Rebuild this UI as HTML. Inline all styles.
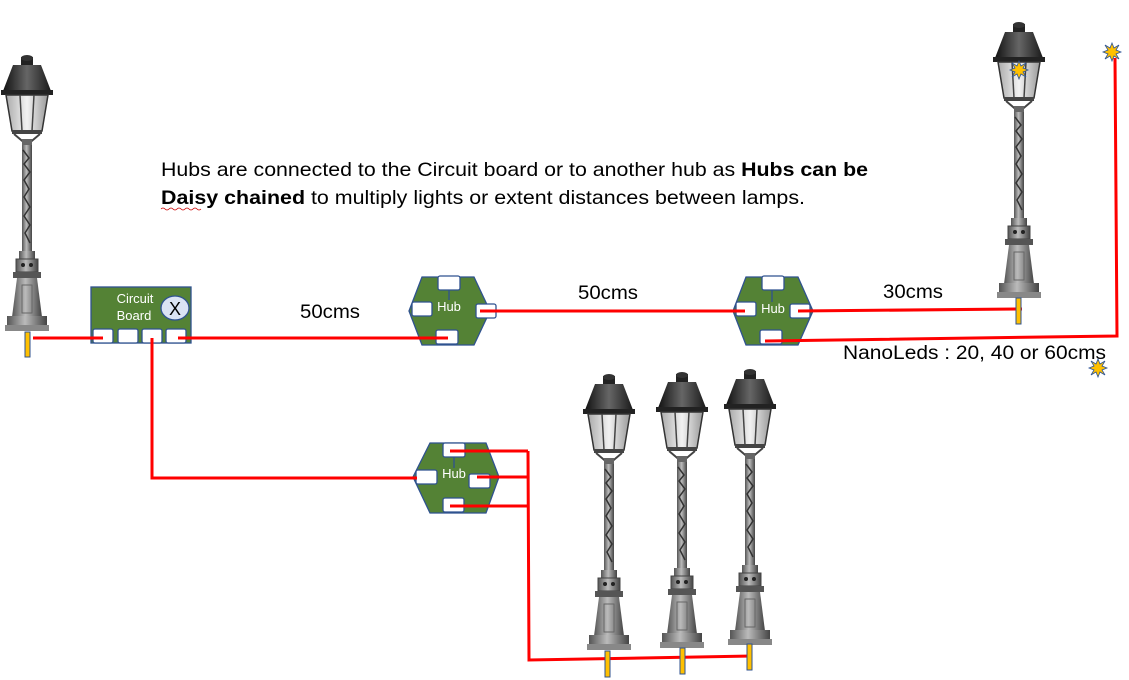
<!DOCTYPE html>
<html><head><meta charset="utf-8"><style>
html,body{margin:0;padding:0;background:#fff;}
svg{display:block;}
</style></head><body>
<svg width="1129" height="680" viewBox="0 0 1129 680" xmlns="http://www.w3.org/2000/svg" font-family="Liberation Sans, sans-serif">
<defs>
<linearGradient id="roof" x1="0" x2="1"><stop offset="0" stop-color="#111"/><stop offset="0.5" stop-color="#666"/><stop offset="1" stop-color="#1a1a1a"/></linearGradient>
<linearGradient id="glass" x1="0" x2="1"><stop offset="0" stop-color="#aaa"/><stop offset="0.5" stop-color="#f2f2f2"/><stop offset="1" stop-color="#999"/></linearGradient>
<linearGradient id="metal" x1="0" x2="1"><stop offset="0" stop-color="#555"/><stop offset="0.45" stop-color="#bbb"/><stop offset="1" stop-color="#444"/></linearGradient>
<g id="lamp">
 <rect x="19" y="2" width="12" height="9" fill="#222"/>
 <ellipse cx="25" cy="3" rx="6" ry="3" fill="#333"/>
 <polygon points="11,10 39,10 49,36 1,36" fill="url(#roof)"/>
 <rect x="-1" y="35" width="52" height="5" fill="#222"/>
 <polygon points="4,40 46,40 40,76 10,76" fill="url(#glass)" stroke="#333" stroke-width="1.5"/>
 <line x1="18" y1="40" x2="20" y2="76" stroke="#444" stroke-width="1.5"/>
 <line x1="32" y1="40" x2="30" y2="76" stroke="#444" stroke-width="1.5"/>
 <rect x="10" y="75" width="30" height="4" fill="#444"/>
 <path d="M12,79 L25,90 L38,79" stroke="#444" stroke-width="2" fill="none"/>
 <rect x="20" y="84" width="10" height="6" fill="#666"/>
 <rect x="20" y="90" width="10" height="106" fill="url(#metal)"/>
 <path d="M21,95 l6,8 l-5,6 l6,8 l-6,8 l5,9 l-5,8 l6,10 l-6,9 l6,9 l-5,8 l5,10" stroke="#333" stroke-width="1.5" fill="none"/>
 <rect x="17" y="196" width="16" height="8" fill="url(#metal)"/>
 <rect x="14" y="204" width="22" height="13" fill="url(#metal)" stroke="#444" stroke-width="1"/>
 <circle cx="21" cy="210" r="2" fill="#222"/><circle cx="29" cy="210" r="2" fill="#222"/>
 <rect x="11" y="217" width="28" height="6" fill="#555"/>
 <polygon points="15,223 35,223 40,262 10,262" fill="url(#metal)"/>
 <rect x="20" y="230" width="10" height="28" fill="none" stroke="#666" stroke-width="1"/>
 <rect x="5" y="261" width="40" height="10" fill="url(#metal)"/>
 <rect x="3" y="270" width="44" height="6" fill="#888"/>
</g>
<g id="star"><polygon points="0,-9 2,-4 7,-7 4,-2 9,0 4,2 7,7 2,4 0,9 -2,4 -7,7 -4,2 -9,0 -4,-2 -7,-7 -2,-4" fill="#ffc000" stroke="#2e5597" stroke-width="0.8"/></g>
</defs>

<use href="#lamp" x="2" y="55"/>
<use href="#lamp" x="994" y="22"/>
<use href="#lamp" x="584" y="374"/>
<use href="#lamp" x="657" y="372"/>
<use href="#lamp" x="725" y="369"/>
<use href="#star" x="1019" y="70"/>
<use href="#star" x="1112" y="52"/>
<use href="#star" x="1098" y="368"/>

<text x="161" y="176" font-size="19.5" textLength="707" lengthAdjust="spacingAndGlyphs">Hubs are connected to the Circuit board or to another hub as <tspan font-weight="bold">Hubs can be</tspan></text>
<text x="161" y="204" font-size="19.5" textLength="644" lengthAdjust="spacingAndGlyphs"><tspan font-weight="bold">Daisy chained</tspan> to multiply lights or extent distances between lamps.</text>
<path d="M161,209 q2,-2 4,0 t4,0 t4,0 t4,0 t4,0 t4,0 t4,0 t4,0 t4,0 t4,0" stroke="#c00" stroke-width="0.8" fill="none"/>
<text x="300" y="318" font-size="19" textLength="60" lengthAdjust="spacingAndGlyphs">50cms</text>
<text x="578" y="299" font-size="19" textLength="60" lengthAdjust="spacingAndGlyphs">50cms</text>
<text x="883" y="298" font-size="19" textLength="60" lengthAdjust="spacingAndGlyphs">30cms</text>
<text x="843" y="359" font-size="19" textLength="263" lengthAdjust="spacingAndGlyphs">NanoLeds : 20, 40 or 60cms</text>

<rect x="91" y="287" width="100" height="56" fill="#548235" stroke="#2f528f" stroke-width="1.3"/>
<text x="135" y="303" font-size="13" fill="#fff" text-anchor="middle">Circuit</text>
<text x="134" y="320" font-size="13" fill="#fff" text-anchor="middle">Board</text>
<ellipse cx="175" cy="308" rx="14" ry="12" fill="#dae3f3" stroke="#2f528f" stroke-width="1.3"/>
<text x="175" y="315" font-size="18" text-anchor="middle">X</text>
<g fill="#fff" stroke="#2f528f" stroke-width="1.3">
<rect x="93" y="329" width="20" height="14" rx="2"/>
<rect x="118" y="329" width="20" height="14" rx="2"/>
<rect x="142" y="329" width="20" height="14" rx="2"/>
<rect x="166" y="329" width="20" height="14" rx="2"/>
</g>

<g stroke="#2f528f" stroke-width="1.3">
<polygon points="422,277 474,277 490,311 474,345 422,345 409,311" fill="#548235"/>
<line x1="449" y1="290" x2="449" y2="300"/>
<rect x="438" y="276" width="22" height="14" rx="2" fill="#fff"/>
<rect x="412" y="302" width="20" height="14" rx="2" fill="#fff"/>
<rect x="476" y="304" width="20" height="14" rx="2" fill="#fff"/>
<rect x="436" y="330" width="22" height="14" rx="2" fill="#fff"/>

<polygon points="746,277 798,277 813,311 798,345 746,345 733,311" fill="#548235"/>
<line x1="772" y1="290" x2="772" y2="302"/>
<rect x="762" y="276" width="22" height="14" rx="2" fill="#fff"/>
<rect x="736" y="302" width="20" height="14" rx="2" fill="#fff"/>
<rect x="790" y="304" width="20" height="14" rx="2" fill="#fff"/>
<rect x="760" y="330" width="22" height="14" rx="2" fill="#fff"/>

<polygon points="430,443 486,443 499,477 486,513 430,513 413,477" fill="#548235"/>
<line x1="454" y1="457" x2="454" y2="468"/>
<rect x="443" y="443" width="22" height="14" rx="2" fill="#fff"/>
<rect x="416" y="470" width="21" height="14" rx="2" fill="#fff"/>
<rect x="469" y="474" width="21" height="14" rx="2" fill="#fff"/>
<rect x="443" y="498" width="21" height="14" rx="2" fill="#fff"/>
</g>
<g font-size="13" fill="#fff" text-anchor="middle">
<text x="449" y="311">Hub</text>
<text x="773" y="313">Hub</text>
<text x="454" y="478">Hub</text>
</g>

<g stroke="#ff0000" stroke-width="3" fill="none">
<line x1="33" y1="338" x2="103" y2="338"/>
<line x1="178" y1="338" x2="448" y2="338"/>
<polyline points="152,338 152,478 417,478"/>
<line x1="480" y1="311" x2="745" y2="311"/>
<line x1="798" y1="311" x2="1022" y2="309"/>
<polyline points="765,341 1117,336 1115,58"/>
<line x1="450" y1="451" x2="528" y2="451"/>
<line x1="477" y1="477" x2="528" y2="477"/>
<line x1="450" y1="506" x2="528" y2="506"/>
<polyline points="528,451 529,660 752,656"/>
</g>

<g fill="#ffc000" stroke="#2f528f" stroke-width="1">
<rect x="25" y="332" width="5" height="25"/>
<rect x="1016" y="298" width="5" height="26"/>
<rect x="605" y="651" width="5" height="26"/>
<rect x="680" y="648" width="5" height="26"/>
<rect x="747" y="644" width="5" height="26"/>
</g>
</svg>
</body></html>
